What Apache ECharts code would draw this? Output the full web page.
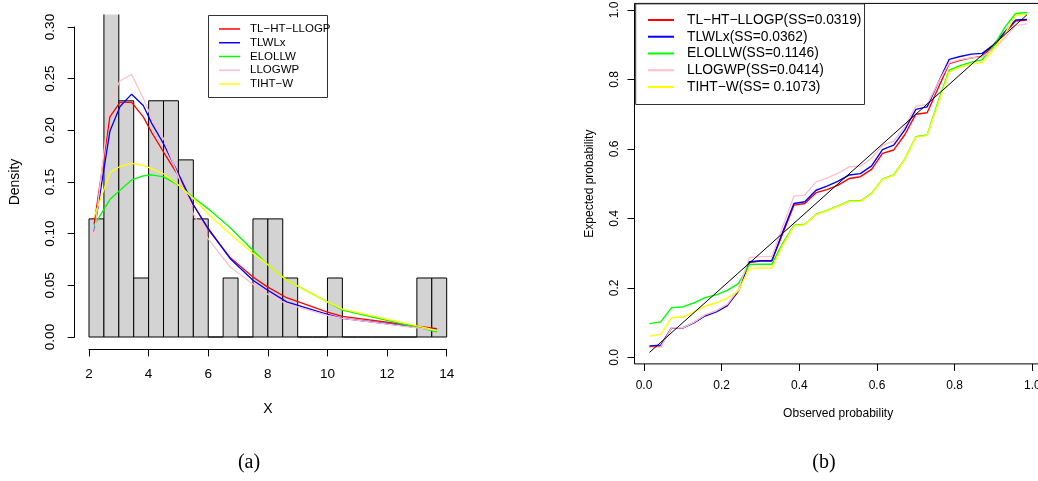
<!DOCTYPE html>
<html>
<head>
<meta charset="utf-8">
<script src="https://cdn.jsdelivr.net/npm/echarts@6/dist/echarts.min.js"></script>
<style>
html,body{margin:0;padding:0;background:#fff;}
#chart{width:1038px;height:481px;}
</style>
</head>
<body>
<div id="chart"></div>
<script>
// ---------- Panel (a): histogram + fitted densities ----------
const histEdges = [2, 2.5, 3, 3.5, 4, 4.5, 5, 5.5, 6, 6.5, 7, 7.5, 8, 8.5, 9, 9.5, 10, 10.5, 11, 11.5, 12, 12.5, 13, 13.5, 14];
const histDensity = [0.1143, 0.3429, 0.2286, 0.0571, 0.2286, 0.2286, 0.1714, 0.1143, 0, 0.0571, 0, 0.1143, 0.1143, 0.0571, 0, 0, 0.0571, 0, 0, 0, 0, 0, 0.0571, 0.0571];

const pdfX      = [2.17, 2.7, 3.04, 3.43, 3.82, 4.1, 4.5, 5.0, 5.5, 6.0, 6.73, 7.5, 7.96, 8.63, 10.0, 10.5, 13.67];
const pdfTLHT   = [0.109, 0.213, 0.227, 0.227, 0.213, 0.198, 0.179, 0.156, 0.128, 0.104, 0.077, 0.058, 0.049, 0.038, 0.024, 0.020, 0.008];
const pdfTLWLx  = [0.102, 0.199, 0.223, 0.235, 0.224, 0.207, 0.187, 0.158, 0.128, 0.105, 0.076, 0.055, 0.046, 0.034, 0.022, 0.018, 0.007];
const pdfELOLLW = [0.108, 0.133, 0.142, 0.152, 0.156, 0.157, 0.155, 0.147, 0.135, 0.124, 0.106, 0.084, 0.071, 0.055, 0.034, 0.026, 0.005];
const pdfLLOGWP = [0.097, 0.228, 0.248, 0.254, 0.231, 0.212, 0.192, 0.155, 0.119, 0.095, 0.068, 0.051, 0.042, 0.032, 0.021, 0.018, 0.0065];
const pdfTIHTW  = [0.116, 0.159, 0.165, 0.168, 0.166, 0.163, 0.158, 0.147, 0.134, 0.119, 0.100, 0.081, 0.071, 0.055, 0.034, 0.027, 0.0065];

const namesA = ['TL\u2212HT\u2212LLOGP', 'TLWLx', 'ELOLLW', 'LLOGWP', 'TIHT\u2212W'];

// ---------- Panel (b): PP plot ----------
const ppObserved = [0.014, 0.043, 0.071, 0.100, 0.129, 0.157, 0.186, 0.214, 0.243, 0.271, 0.300, 0.329, 0.357, 0.386, 0.414, 0.443, 0.471, 0.500, 0.529, 0.557, 0.586, 0.614, 0.643, 0.671, 0.700, 0.729, 0.757, 0.786, 0.814, 0.843, 0.871, 0.900, 0.929, 0.957, 0.986];
const ppTLHT   = [0.030, 0.032, 0.085, 0.085, 0.100, 0.121, 0.133, 0.150, 0.190, 0.273, 0.277, 0.277, 0.356, 0.438, 0.443, 0.474, 0.483, 0.496, 0.515, 0.520, 0.541, 0.587, 0.597, 0.640, 0.700, 0.704, 0.774, 0.846, 0.855, 0.862, 0.866, 0.896, 0.933, 0.968, 0.971];
const ppTLWLx  = [0.033, 0.035, 0.085, 0.085, 0.100, 0.119, 0.131, 0.148, 0.192, 0.275, 0.278, 0.278, 0.361, 0.443, 0.448, 0.481, 0.493, 0.507, 0.525, 0.529, 0.551, 0.598, 0.611, 0.654, 0.714, 0.721, 0.789, 0.858, 0.866, 0.873, 0.875, 0.900, 0.937, 0.971, 0.973];
const ppELOLLW = [0.097, 0.102, 0.143, 0.145, 0.157, 0.172, 0.180, 0.193, 0.212, 0.267, 0.268, 0.268, 0.328, 0.380, 0.383, 0.412, 0.423, 0.436, 0.450, 0.450, 0.472, 0.513, 0.525, 0.570, 0.635, 0.640, 0.735, 0.827, 0.840, 0.850, 0.857, 0.895, 0.950, 0.990, 0.993];
const ppLLOGWP = [0.028, 0.030, 0.085, 0.085, 0.101, 0.122, 0.134, 0.152, 0.195, 0.287, 0.290, 0.290, 0.376, 0.464, 0.467, 0.505, 0.516, 0.530, 0.549, 0.550, 0.574, 0.610, 0.622, 0.664, 0.723, 0.729, 0.789, 0.848, 0.857, 0.862, 0.865, 0.888, 0.920, 0.955, 0.960];
const ppTIHTW  = [0.061, 0.066, 0.114, 0.116, 0.131, 0.147, 0.157, 0.170, 0.191, 0.256, 0.257, 0.257, 0.323, 0.378, 0.382, 0.411, 0.422, 0.435, 0.449, 0.449, 0.471, 0.512, 0.524, 0.569, 0.634, 0.639, 0.730, 0.822, 0.835, 0.845, 0.849, 0.885, 0.930, 0.985, 0.988];

const namesB = ['TL\u2212HT\u2212LLOGP(SS=0.0319)', 'TLWLx(SS=0.0362)', 'ELOLLW(SS=0.1146)', 'LLOGWP(SS=0.0414)', 'TIHT\u2212W(SS= 0.1073)'];

const colors = ['#ff0000', '#0000ff', '#00ff00', '#ffc0cb', '#ffff00'];
const FONT = 'Liberation Sans, Arial, Helvetica, sans-serif';

function zip(xs, ys) { return xs.map((x, i) => [x, ys[i]]); }

const histData = histDensity.map((d, i) => [histEdges[i], histEdges[i + 1], d]);

function renderBin(params, api) {
  const x0 = api.value(0), x1 = api.value(1), h = api.value(2);
  const p0 = api.coord([x0, h]);
  const p1 = api.coord([x1, 0]);
  const cs = params.coordSys;
  const top = Math.max(p0[1], cs.y - 2);
  return {
    type: 'rect',
    shape: { x: p0[0], y: top, width: p1[0] - p0[0], height: p1[1] - top },
    style: { fill: '#d3d3d3', stroke: '#000', lineWidth: 1 }
  };
}

const hidden = { show: false };
const axisTickOut = (len) => ({ show: true, inside: false, length: len, lineStyle: { color: '#000', width: 1 } });

const pdfSeriesData = [pdfTLHT, pdfTLWLx, pdfELOLLW, pdfLLOGWP, pdfTIHTW];
const ppSeriesData = [ppTLHT, ppTLWLx, ppELOLLW, ppLLOGWP, ppTIHTW];

const series = [];
series.push({
  type: 'custom', name: 'hist', xAxisIndex: 0, yAxisIndex: 0,
  renderItem: renderBin, data: histData, clip: true,
  encode: { x: [0, 1], y: 2 }, silent: true, z: 1
});
pdfSeriesData.forEach((ys, k) => {
  series.push({
    type: 'line', name: namesA[k], xAxisIndex: 0, yAxisIndex: 0,
    data: zip(pdfX, ys), symbol: 'none', smooth: false, clip: true,
    lineStyle: { color: colors[k], width: 1.3 }, itemStyle: { color: colors[k] }, z: 3
  });
});
ppSeriesData.forEach((ys, k) => {
  series.push({
    type: 'line', name: namesB[k], xAxisIndex: 3, yAxisIndex: 3,
    data: zip(ppObserved, ys), symbol: 'none', smooth: false,
    lineStyle: { color: colors[k], width: 1.4 }, itemStyle: { color: colors[k] }, z: 3
  });
});
series.push({
  type: 'line', name: 'diag', xAxisIndex: 3, yAxisIndex: 3,
  data: [[ppObserved[0], ppObserved[0]], [ppObserved[ppObserved.length - 1], ppObserved[ppObserved.length - 1]]],
  symbol: 'none', lineStyle: { color: '#000', width: 1 }, z: 4, silent: true
});

const OB = 'none';
const option = {
  animation: false,
  backgroundColor: '#fff',
  textStyle: { fontFamily: FONT },
  grid: [
    { left: 74.7, top: 14.6, width: 386.3, height: 334.8, outerBoundsMode: OB, containLabel: false },          // 0 left data
    { left: 89, top: 14.6, width: 357.7, height: 334.8, outerBoundsMode: OB, containLabel: false },            // 1 left x axis
    { left: 74.7, top: 27, width: 386.3, height: 310, outerBoundsMode: OB, containLabel: false },              // 2 left y axis
    { left: 634.5, top: 3.4, width: 407.4, height: 360.5, outerBoundsMode: OB, containLabel: false, show: true, borderColor: '#000', borderWidth: 1, backgroundColor: 'transparent' }, // 3 right data
    { left: 644, top: 3.4, width: 388.3, height: 360.5, outerBoundsMode: OB, containLabel: false },            // 4 right x axis
    { left: 634.5, top: 10, width: 407.4, height: 347.3, outerBoundsMode: OB, containLabel: false }            // 5 right y axis
  ],
  xAxis: [
    { gridIndex: 0, type: 'value', min: 1.52, max: 14.48, show: false },
    { gridIndex: 1, type: 'value', min: 2, max: 14, interval: 2, position: 'bottom',
      axisLine: { show: true, lineStyle: { color: '#000', width: 1 } }, axisTick: axisTickOut(7),
      splitLine: hidden, axisLabel: { show: true, color: '#000', fontSize: 13.5, fontFamily: FONT, margin: 18, showMinLabel: true, showMaxLabel: true, hideOverlap: false },
      name: 'X', nameLocation: 'middle', nameGap: 53, nameTextStyle: { color: '#000', fontSize: 14, fontFamily: FONT } },
    { gridIndex: 2, type: 'value', min: 0, max: 1, show: false },
    { gridIndex: 3, type: 'value', min: -0.0246, max: 1.0246, show: false },
    { gridIndex: 4, type: 'value', min: 0, max: 1, interval: 0.2, position: 'bottom',
      axisLine: { show: false }, axisTick: axisTickOut(7), splitLine: hidden,
      axisLabel: { show: true, color: '#000', fontSize: 12, fontFamily: FONT, margin: 16, showMinLabel: true, showMaxLabel: true, hideOverlap: false, formatter: v => v.toFixed(1) },
      name: 'Observed probability', nameLocation: 'middle', nameGap: 44, nameTextStyle: { color: '#000', fontSize: 12, fontFamily: FONT } },
    { gridIndex: 5, type: 'value', min: 0, max: 1, show: false }
  ],
  yAxis: [
    { gridIndex: 0, type: 'value', min: -0.012, max: 0.312, show: false },
    { gridIndex: 1, type: 'value', min: 0, max: 1, show: false },
    { gridIndex: 2, type: 'value', min: 0, max: 0.3, interval: 0.05, position: 'left',
      axisLine: { show: true, lineStyle: { color: '#000', width: 1 } }, axisTick: axisTickOut(7), splitLine: hidden,
      axisLabel: { show: true, rotate: 90, color: '#000', fontSize: 13.5, fontFamily: FONT, margin: 17, showMinLabel: true, showMaxLabel: true, hideOverlap: false, formatter: v => v.toFixed(2) },
      name: 'Density', nameLocation: 'middle', nameGap: 53, nameRotate: 90, nameTextStyle: { color: '#000', fontSize: 14, fontFamily: FONT } },
    { gridIndex: 3, type: 'value', min: -0.019, max: 1.019, show: false },
    { gridIndex: 4, type: 'value', min: 0, max: 1, show: false },
    { gridIndex: 5, type: 'value', min: 0, max: 1, interval: 0.2, position: 'left',
      axisLine: { show: false }, axisTick: axisTickOut(7), splitLine: hidden,
      axisLabel: { show: true, rotate: 90, color: '#000', fontSize: 12, fontFamily: FONT, margin: 14, showMinLabel: true, showMaxLabel: true, hideOverlap: false, formatter: v => v.toFixed(1) },
      name: 'Expected probability', nameLocation: 'middle', nameGap: 39, nameRotate: 90, nameTextStyle: { color: '#000', fontSize: 12, fontFamily: FONT } }
  ],
  legend: [
    { data: namesA, orient: 'vertical', left: 219, top: 22.1, padding: 0, itemGap: 0,
      icon: 'rect', itemWidth: 21, itemHeight: 1.5, selectedMode: false,
      textStyle: { color: '#000', fontSize: 11.5, fontFamily: FONT, lineHeight: 13.75, padding: [0, 0, 0, 5] } },
    { data: namesB, orient: 'vertical', left: 648, top: 11.6, padding: 0, itemGap: 0,
      icon: 'rect', itemWidth: 26, itemHeight: 2, selectedMode: false,
      textStyle: { color: '#000', fontSize: 13.8, fontFamily: FONT, lineHeight: 16.75, padding: [0, 0, 0, 8] } }
  ],
  graphic: [
    { type: 'rect', left: 208, top: 15, z: 0, shape: { width: 119, height: 82 }, style: { fill: '#fff', stroke: '#333', lineWidth: 1 } },
    { type: 'rect', left: 635.2, top: 3.4, z: 0, shape: { width: 228.8, height: 100.6 }, style: { fill: '#fff', stroke: '#333', lineWidth: 1 } },
    { type: 'text', x: 249, y: 463, style: { text: '(a)', font: '20px "Liberation Serif", "Times New Roman", serif', fill: '#000', textAlign: 'center', textVerticalAlign: 'middle' } },
    { type: 'text', x: 824, y: 463, style: { text: '(b)', font: '20px "Liberation Serif", "Times New Roman", serif', fill: '#000', textAlign: 'center', textVerticalAlign: 'middle' } }
  ],
  series: series
};

const chart = echarts.init(document.getElementById('chart'), null, { renderer: 'canvas' });
chart.setOption(option);
</script>
</body>
</html>
